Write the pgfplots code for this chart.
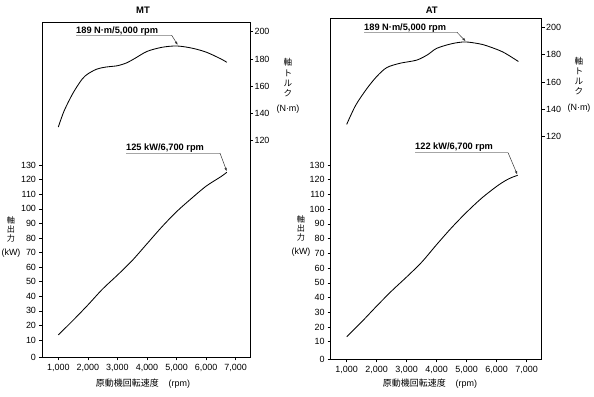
\documentclass[border=0pt]{standalone}
\usepackage{fontspec}
\setmainfont{Liberation Sans}
\newfontfamily\jp{Noto Sans CJK JP}
\usepackage{pgfplots}
\usepackage{pgfplotstable}
\pgfplotsset{compat=1.18}
\usetikzlibrary{arrows.meta}

\pgfplotstableread{
rpm kw
1000 13.5
1500 23.5
2000 34
2500 45
3000 54.5
3500 64.5
4000 76
4500 87.5
5000 98
5500 107
6000 115.5
6500 122
6700 125
}\mtpow
\pgfplotstableread{
rpm nm
1000 130
1200 142
1500 155
1800 165
2000 169
2300 172.5
2600 174
3000 175
3300 177
3600 180.5
4000 185.5
4500 188.5
5000 189.5
5500 188
6000 185
6500 180
6700 177.5
}\mttq
\pgfplotstableread{
rpm kw
1000 13.4
1500 23.5
2000 34.2
2500 44.5
3000 54
3500 64
4000 76
4500 87.5
5000 98
5500 107.5
6000 115.5
6300 119.5
6500 121.5
6700 123
}\atpow
\pgfplotstableread{
rpm nm
1000 129
1300 143
1667 155
2000 164
2333 170.5
2778 173.7
3333 176
3700 180
4000 184.6
4500 188
4944 189.3
5400 188
5667 186.5
6200 182
6722 175
}\attq

\tikzset{
  ann/.style={font=\bfseries\fontsize{9.3}{10}\selectfont, anchor=base west, inner sep=0pt},
  crv/.style={black, line width=0.85pt, smooth},
  vlabL/.style={font=\fontsize{8.2}{8.8}\selectfont, inner sep=0pt, align=center, anchor=north},
  vlabR/.style={font=\fontsize{8.6}{10.2}\selectfont, inner sep=0pt, align=center, anchor=north},
}
\pgfplotsset{
  base/.style={scale only axis, anchor=south west, clip=false,
    tick align=outside, major tick length=3bp,
    tick style={black, line width=0.5pt},
    tick label style={font=\fontsize{9}{9}\selectfont},
    /pgf/number format/assume math mode=true,
    axis line style={line width=0.8pt},
  },
  pw/.style={base,
    xtick={1000,2000,3000,4000,5000,6000,7000},
    xticklabels={{1,000},{2,000},{3,000},{4,000},{5,000},{6,000},{7,000}},
    xtick pos=left, ytick pos=left,
    yticklabels={0,10,20,30,40,50,60,70,80,90,100,110,120,130},
    yticklabel style={xshift=0.5bp},
  },
  tq/.style={base, axis x line=none, axis y line*=right,
    ytick={120,140,160,180,200},
    yticklabel style={xshift=-2bp},
  },
}

\begin{document}
\begin{tikzpicture}[x=1bp,y=1bp]
\useasboundingbox (0,0) rectangle (594,396);

% ---------------- MT ----------------
\begin{axis}[pw, at={(42bp,38.7bp)}, width=208bp, height=335.3bp,
  xmin=449, xmax=7484, ymin=-1.86, ymax=228.06,
  ytick={-1.86,10,20,30,40,50,60,70,80,90,100,110,120,130}]
\addplot[crv, no marks] table[x=rpm,y=kw]{\mtpow};
\draw[gray!70, line width=0.8pt] (axis cs:3289,138.2) -- (axis cs:6468,138.2);
\draw[black!80, line width=0.5pt, -{Latex[length=3.5bp,width=2.5bp]}] (axis cs:6468,138.2) -- (axis cs:6700,125.6);
\node[ann] at (axis cs:3289,140.2) {125 kW/6,700 rpm};
\end{axis}
\begin{axis}[tq, at={(42bp,38.7bp)}, width=208bp, height=335.3bp,
  xmin=449, xmax=7484, ymin=-39, ymax=207.1]
\addplot[crv, no marks] table[x=rpm,y=nm]{\mttq};
\draw[gray!70, line width=0.8pt] (axis cs:1599,197.4) -- (axis cs:4835,197.4);
\draw[black!80, line width=0.5pt, -{Latex[length=3.5bp,width=2.5bp]}] (axis cs:4835,197.4) -- (axis cs:5040,190.2);
\node[ann] at (axis cs:1599,198.9) {189 N·m/5,000 rpm};
\end{axis}
\node[font=\bfseries\fontsize{9.5}{10}\selectfont] at (143,386) {MT};
\node[vlabL] at (11,179.5) {{\jp 軸}\\{\jp 出}\\{\jp 力}\\[6bp]{\fontsize{9}{9}\selectfont(kW)}};
\node[vlabR] at (288,337.5) {{\jp 軸}\\{\jp ト}\\{\jp ル}\\{\jp ク}\\[5bp]{\fontsize{9}{9}\selectfont(N·m)}};
\node[font=\fontsize{9}{9}\selectfont, inner sep=0pt] at (143,12) {{\jp 原動機回転速度}\hspace{1.1em}(rpm)};

% ---------------- AT ----------------
\begin{axis}[pw, at={(330.7bp,36.7bp)}, width=211bp, height=341.3bp,
  xmin=467, xmax=7500, ymin=-1.95, ymax=229.8,
  ytick={-1.95,10,20,30,40,50,60,70,80,90,100,110,120,130}]
\addplot[crv, no marks] table[x=rpm,y=kw]{\atpow};
\draw[gray!70, line width=0.8pt] (axis cs:3277,138.4) -- (axis cs:6377,138.4);
\draw[black!80, line width=0.5pt, -{Latex[length=3.5bp,width=2.5bp]}] (axis cs:6377,138.4) -- (axis cs:6687,123.5);
\node[ann] at (axis cs:3277,140.4) {122 kW/6,700 rpm};
\end{axis}
\begin{axis}[tq, at={(330.7bp,36.7bp)}, width=211bp, height=341.3bp,
  xmin=467, xmax=7500, ymin=-42.8, ymax=206.8]
\addplot[crv, no marks] table[x=rpm,y=nm]{\attq};
\draw[gray!70, line width=0.8pt] (axis cs:1577,196.3) -- (axis cs:4677,196.3);
\draw[black!80, line width=0.5pt, -{Latex[length=3.5bp,width=2.5bp]}] (axis cs:4677,196.3) -- (axis cs:4967,189.8);
\node[ann] at (axis cs:1577,197.8) {189 N·m/5,000 rpm};
\end{axis}
\node[font=\bfseries\fontsize{9.5}{10}\selectfont] at (431.7,386) {AT};
\node[vlabL] at (301,180.5) {{\jp 軸}\\{\jp 出}\\{\jp 力}\\[6bp]{\fontsize{9}{9}\selectfont(kW)}};
\node[vlabR] at (579,339) {{\jp 軸}\\{\jp ト}\\{\jp ル}\\{\jp ク}\\[5bp]{\fontsize{9}{9}\selectfont(N·m)}};
\node[font=\fontsize{9}{9}\selectfont, inner sep=0pt] at (430,12) {{\jp 原動機回転速度}\hspace{1.1em}(rpm)};
\end{tikzpicture}
\end{document}
